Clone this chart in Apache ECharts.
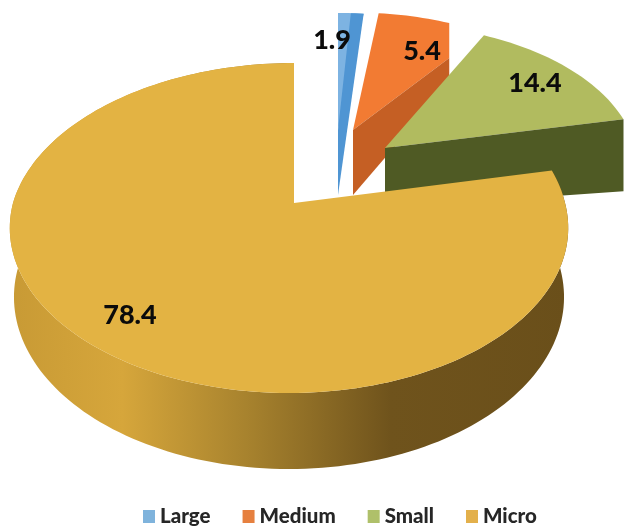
<!DOCTYPE html>
<html>
<head>
<meta charset="utf-8">
<style>html,body{margin:0;padding:0;background:#fff}#chart{width:625px;height:526px}</style>
<script src="https://cdn.jsdelivr.net/npm/echarts@6/dist/echarts.min.js"></script>
</head>
<body>
<div id="chart"></div>
<script>
// Firm-size shares, percent
const categories = ['Large', 'Medium', 'Small', 'Micro'];
const shares = [1.9, 5.4, 14.4, 78.4];

// Colours for each category: upper face, cut face
const faceColors = ['#7DB3E2', '#F27B33', '#B1BB5F', '#E3B343'];
const cutColors = ['#4F95D3', '#C55F24', '#4F5A24', '#E3B343'];
const legendColors = ['#7FB3DC', '#E6803F', '#AFC06A', '#E3B04B'];

// Tilted-disc projection
const disc = { cx: 294, cy: 203, rx: 276, ry: 161.2, persp: 0.1515, shear: 5, drop: 68, lowerRx: 0.985, lowerRy: 168 };

// How each wedge is pulled out of the disc, and how its cut face is shaded
const wedgeLayout = [
  { apex: [338, 130], sx: 0.9, sy: 0.836, shadeFrom: 0.5, lift: 0, cutDrop: 0, depth: 65, label: [332, 40] },
  { apex: [353, 130], sx: 0.9, sy: 0.84, shadeFrom: 1, lift: 35, cutDrop: 60, depth: 65, label: [422, 51] },
  { apex: [385, 148], sx: 0.925, sy: 0.885, shadeFrom: 1, lift: 0, cutDrop: 72, depth: 60, label: [535, 83] },
  { apex: [294, 203], sx: 1, sy: 1, shadeFrom: 1, lift: 0, cutDrop: 0, depth: 0, label: [130, 315] }
];

const total = shares.reduce((a, b) => a + b, 0);
const toAngle = v => echarts.number.linearMap(v, [0, total], [0, 360]);

// Offset from the disc centre for an angle measured clockwise from 12 o'clock
function project(deg, lower) {
  const t = deg * Math.PI / 180;
  const depth = Math.cos(t);
  const s = 1 / (1 + disc.persp * depth);
  const rx = lower ? disc.rx * disc.lowerRx : disc.rx;
  const ry = lower ? disc.lowerRy : disc.ry;
  return [rx * Math.sin(t) * s - disc.shear * (1 - Math.max(depth, 0)), -ry * depth * s];
}

function arc(from, to, map) {
  const pts = [];
  const n = Math.max(2, Math.ceil((to - from) / 1.5));
  for (let i = 0; i <= n; i++) pts.push(map(from + (to - from) * i / n));
  return pts;
}

const labelFont = '900 27px Lato, sans-serif';

function renderWedge(params, api) {
  const idx = params.seriesIndex;
  const layout = wedgeLayout[idx];
  const before = shares.slice(0, idx).reduce((a, b) => a + b, 0);
  const value = api.value(0);
  const start = toAngle(before);
  const end = toAngle(before + value);
  const rim = deg => {
    const p = project(deg, false);
    return [layout.apex[0] + layout.sx * p[0], layout.apex[1] + layout.sy * p[1]];
  };
  const children = [];

  if (idx === categories.length - 1) {
    // Outer wall of the main body, seen through its near side
    const upper = arc(start, end, d => {
      const p = project(d, false);
      return [disc.cx + p[0], disc.cy + p[1]];
    });
    const lower = arc(start, end, d => {
      const p = project(d, true);
      return [disc.cx + p[0], disc.cy + disc.drop + p[1]];
    }).reverse();
    children.push({
      type: 'polygon',
      shape: { points: upper.concat(lower) },
      style: {
        fill: new echarts.graphic.LinearGradient(10, 0, 570, 0, [
          { offset: 0, color: '#C89A35' },
          { offset: 0.2, color: '#D6A63B' },
          { offset: 0.42, color: '#A8832E' },
          { offset: 0.68, color: '#6F531C' },
          { offset: 1, color: '#6A4F1A' }
        ], true)
      }
    });
  }

  const corner = rim(end);
  const face = [layout.apex].concat(arc(start, end, rim));
  if (layout.lift) face.push([corner[0], corner[1] + layout.lift]);
  children.push({
    type: 'polygon',
    shape: { points: face },
    style: { fill: faceColors[idx] }
  });

  if (layout.depth) {
    // Cut face running down from the wedge's clockwise edge
    const shade = [layout.apex]
      .concat(arc(start + (end - start) * layout.shadeFrom, end, rim)
        .map(p => [p[0], p[1] + layout.lift]))
      .concat([[corner[0], corner[1] + layout.cutDrop],
               [layout.apex[0], layout.apex[1] + layout.depth]]);
    children.push({
      type: 'polygon',
      shape: { points: shade },
      style: { fill: cutColors[idx] }
    });
  }

  children.push({
    type: 'text',
    style: {
      text: String(value),
      x: layout.label[0],
      y: layout.label[1],
      align: 'center',
      verticalAlign: 'middle',
      font: labelFont,
      fill: '#0B0B0B'
    },
    z2: 10
  });
  return { type: 'group', children };
}

const chart = echarts.init(document.getElementById('chart'), null, { renderer: 'canvas' });
chart.setOption({
  animation: false,
  backgroundColor: '#fff',
  legend: {
    data: categories,
    left: 143,
    top: 506,
    icon: 'rect',
    itemWidth: 12,
    itemHeight: 13,
    itemGap: 32,
    padding: 0,
    selectedMode: false,
    textStyle: { fontFamily: 'Lato, sans-serif', fontWeight: 900, fontSize: 20.5, color: '#262626' }
  },
  series: categories.map((name, i) => ({
    type: 'custom',
    name,
    coordinateSystem: 'none',
    renderItem: renderWedge,
    itemStyle: { color: legendColors[i] },
    data: [[shares[i]]],
    silent: true
  }))
});
</script>
</body>
</html>
